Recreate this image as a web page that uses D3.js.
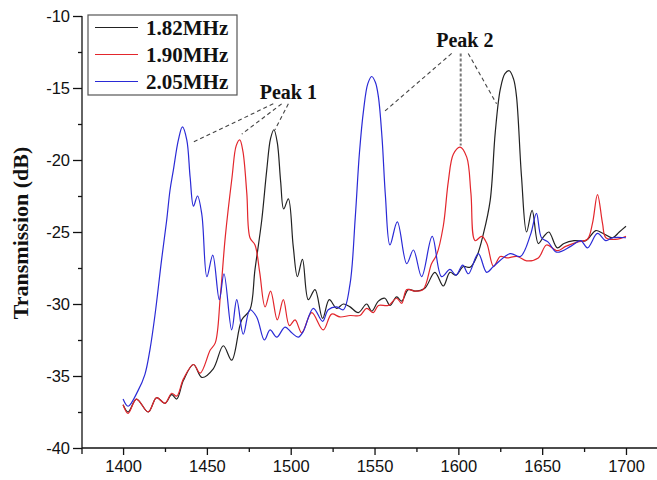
<!DOCTYPE html>
<html>
<head>
<meta charset="utf-8">
<script src="https://cdn.jsdelivr.net/npm/d3@7"></script>
<style>
  body { margin: 0; background: #fff; }
  svg { display: block; }
</style>
</head>
<body>
<svg id="chart" width="657" height="480"></svg>
<script>
// transmission spectra: [wavelength nm, dB]
var s182 = [
  [1400,-37.0],[1403,-37.5],[1408,-36.6],[1415,-37.5],[1420,-36.5],[1425,-36.9],[1429,-36.3],
  [1432,-36.6],[1436,-35.3],[1442,-34.2],[1447,-35.1],[1453.8,-34.5],[1459.8,-32.9],[1464.8,-33.9],
  [1470.8,-31.1],[1475.7,-30.4],[1478.7,-27.6],[1482.7,-24.2],[1485.7,-20.7],[1488,-18.5],[1490,-17.9],
  [1492,-18.8],[1494,-21.5],[1495.8,-23.4],[1498.6,-22.7],[1501.5,-26.0],[1504,-28.1],[1507,-26.9],
  [1510.5,-29.7],[1514.5,-29.0],[1519,-31.0],[1523,-29.7],[1527.4,-30.3],[1531.4,-30.0],[1535.4,-30.2],
  [1540.3,-30.6],[1545.3,-30.0],[1548.3,-30.5],[1552.3,-29.8],[1556.2,-29.6],[1559.2,-30.1],[1563.2,-29.5],
  [1566.2,-29.8],[1570.1,-29.0],[1574.1,-29.1],[1580,-28.9],[1586,-27.8],[1591,-28.75],[1595,-27.8],
  [1598.6,-28.0],[1603,-27.4],[1607,-27.45],[1611,-26.7],[1615,-25.1],[1619,-22.8],[1622,-18.1],
  [1625,-15.1],[1627.8,-14.0],[1630.4,-13.8],[1633,-14.4],[1634.7,-15.6],[1637.7,-21.2],[1640.7,-25.0],
  [1644,-23.5],[1647.7,-25.8],[1651,-25.3],[1654,-25.0],[1659,-26.1],[1663,-25.8],[1669,-25.6],
  [1676,-25.6],[1682,-24.9],[1686.4,-25.1],[1692,-25.4],[1696,-25.0],[1700,-24.6]
];
var s190 = [
  [1400,-37.0],[1403,-37.6],[1408,-36.6],[1415,-37.5],[1420,-36.5],[1425,-36.9],[1429,-36.2],
  [1432,-36.4],[1436,-35.2],[1442,-34.2],[1446,-34.8],[1452,-33.2],[1455,-32.7],[1458,-29.5],
  [1461,-25.3],[1465,-21.2],[1467.5,-19.0],[1469.6,-18.6],[1471.5,-19.4],[1473.8,-22.3],[1475.7,-25.4],
  [1478.7,-25.9],[1481.5,-27.8],[1484.7,-30.2],[1488,-29.1],[1492,-31.1],[1495.6,-29.7],[1499.2,-31.5],
  [1502.6,-31.1],[1506.6,-32.0],[1512.5,-30.6],[1519.4,-31.8],[1524.4,-30.7],[1529.4,-30.9],[1535.4,-30.8],
  [1541.3,-30.8],[1545.3,-30.3],[1549.3,-30.6],[1552.3,-30.1],[1558.2,-30.1],[1563.2,-29.6],[1566.2,-29.95],
  [1569.2,-29.0],[1574.1,-29.1],[1579,-29.0],[1584,-27.2],[1587,-26.6],[1591,-24.6],[1594,-21.5],
  [1597,-19.6],[1601,-19.1],[1605,-19.8],[1607.5,-22.3],[1610,-25.6],[1614,-25.3],[1617,-25.8],
  [1621,-27.4],[1625,-26.7],[1629,-26.8],[1635,-26.7],[1640.7,-27.0],[1647.7,-26.8],[1652.6,-25.9],
  [1659,-26.3],[1664,-26.0],[1671,-25.7],[1677,-25.5],[1680,-24.4],[1683,-22.4],[1686,-24.4],
  [1688,-25.4],[1695,-25.5],[1700,-25.3]
];
var s205 = [
  [1400,-36.6],[1403,-37.1],[1409,-36.0],[1413,-34.9],[1416,-33.2],[1419,-30.8],[1423,-26.9],
  [1426,-24.2],[1428,-22.1],[1430,-20.7],[1433,-18.6],[1435.4,-17.7],[1438,-18.6],[1440,-21.2],
  [1442,-23.2],[1444.4,-22.5],[1447,-23.8],[1450,-28.1],[1453.5,-26.6],[1457.4,-29.7],[1460.2,-27.9],
  [1464.8,-31.8],[1467.8,-29.7],[1471.7,-32.1],[1475.7,-30.4],[1479.7,-30.9],[1484.3,-32.5],[1487.7,-31.8],
  [1491.7,-32.3],[1496.6,-31.6],[1500.6,-32.0],[1504.5,-32.3],[1507.5,-31.9],[1513.5,-30.3],[1519,-31.2],
  [1522.4,-30.4],[1527.4,-30.2],[1531.4,-30.4],[1535.4,-28.6],[1538.5,-24.0],[1541,-19.5],[1543.5,-16.5],
  [1546,-14.7],[1548.3,-14.2],[1550.5,-14.6],[1552.3,-15.6],[1554.5,-18.5],[1556.5,-22.5],[1559.2,-25.9],
  [1563.6,-24.3],[1569.2,-27.2],[1573.2,-26.25],[1578.1,-28.1],[1584.4,-25.3],[1590,-28.1],[1595,-27.6],
  [1598.6,-28.0],[1602.6,-27.3],[1606,-27.9],[1611.9,-26.5],[1616.9,-27.8],[1620.9,-27.4],[1631,-26.5],
  [1637,-26.7],[1643,-25.2],[1646.6,-23.7],[1649.6,-25.4],[1653.6,-25.7],[1658.6,-26.4],[1667,-26.0],
  [1673,-25.6],[1677,-26.1],[1683,-25.1],[1688,-25.6],[1692,-25.4],[1700,-25.4]
];

var seriesNames = ["1.82MHz", "1.90MHz", "2.05MHz"];
var seriesColors = ["#222222", "#e3262c", "#2a2ad6"];
var xTicks = [1400, 1450, 1500, 1550, 1600, 1650, 1700];
var yTicks = [-40, -35, -30, -25, -20, -15, -10];

// dashed leader lines: [label x, label y] then [from, to] in data units
var peak1Label = [1498.6, -15.3];
var peak1Lines = [
  [[1489.6, -16.1], [1441.0, -18.8]],
  [[1494.6, -16.1], [1470.8, -18.2]],
  [[1498.6, -16.1], [1490.6, -17.9]]
];
var peak2Label = [1603.9, -11.7];
var peak2Lines = [
  [[1596.0, -12.6], [1555.2, -16.7]],
  [[1601.4, -12.6], [1601.4, -19.0]],
  [[1605.9, -12.6], [1622.8, -16.1]]
];

var svg = d3.select("#chart");
var plotL = 82, plotR = 657, plotT = 16, plotB = 448;

var x = d3.scaleLinear().domain([1375.5, 1718.5]).range([plotL, plotR]);
var y = d3.scaleLinear().domain([-40, -10]).range([plotB, plotT]);

var sans = "'Liberation Sans', Arial, sans-serif";
var serif = "'Liberation Serif', 'Times New Roman', serif";

// x axis
var xAxis = svg.append("g").attr("transform", "translate(0," + plotB + ")")
  .call(d3.axisBottom(x).tickValues(xTicks).tickSize(7).tickPadding(5).tickFormat(d3.format("d")));
svg.append("g").attr("transform", "translate(0," + plotB + ")")
  .call(d3.axisBottom(x).tickValues(d3.range(1425, 1700, 50)).tickSize(4).tickFormat(""))
  .select(".domain").remove();

// y axis, plain hyphen like the original
var yAxis = svg.append("g").attr("transform", "translate(" + plotL + ",0)")
  .call(d3.axisLeft(y).tickValues(yTicks).tickSize(9).tickPadding(3).tickSizeOuter(0)
    .tickFormat(function(d) { return String(d); }));
svg.append("g").attr("transform", "translate(" + plotL + ",0)")
  .call(d3.axisLeft(y).tickValues(d3.range(-37.5, -10, 5)).tickSize(4).tickFormat(""))
  .select(".domain").remove();

svg.selectAll(".tick text").attr("font-family", sans).attr("font-size", 16.5).attr("fill", "#111");
svg.selectAll(".domain, .tick line").attr("stroke", "#111").attr("stroke-width", 1.3);
xAxis.select(".domain").attr("d", "M" + plotL + ",0H" + plotR);
yAxis.select(".domain").attr("d", "M0," + plotT + "V" + (plotB + 6));

svg.append("text")
  .attr("transform", "translate(28,233) rotate(-90)")
  .attr("text-anchor", "middle")
  .attr("font-family", serif).attr("font-weight", "bold").attr("font-size", 22)
  .attr("fill", "#111")
  .text("Transmission (dB)");

// curves
var line = d3.line()
  .x(function(d) { return x(d[0]); })
  .y(function(d) { return y(d[1]); })
  .curve(d3.curveCatmullRom.alpha(0.5));

[s182, s190, s205].forEach(function(s, i) {
  svg.append("path")
    .datum(s)
    .attr("fill", "none")
    .attr("stroke", seriesColors[i])
    .attr("stroke-width", 1.2)
    .attr("d", line);
});

// peak annotations
function leaders(lines) {
  lines.forEach(function(l) {
    var vertical = l[0][0] === l[1][0];
    svg.append("line")
      .attr("x1", x(l[0][0])).attr("y1", y(l[0][1]))
      .attr("x2", x(l[1][0])).attr("y2", y(l[1][1]))
      .attr("stroke", vertical ? "#777" : "#444")
      .attr("stroke-width", vertical ? 2 : 1.1)
      .attr("stroke-dasharray", vertical ? "3,2" : "4,3");
  });
}
leaders(peak1Lines);
leaders(peak2Lines);

[[peak1Label, "Peak 1"], [peak2Label, "Peak 2"]].forEach(function(p) {
  svg.append("text")
    .attr("x", x(p[0][0])).attr("y", y(p[0][1]))
    .attr("text-anchor", "middle")
    .attr("dominant-baseline", "central")
    .attr("font-family", serif).attr("font-weight", "bold").attr("font-size", 20)
    .attr("fill", "#111")
    .text(p[1]);
});

// legend
var legend = svg.append("g").attr("transform", "translate(88,15)");
legend.append("rect")
  .attr("width", 149).attr("height", 80)
  .attr("fill", "#fff").attr("stroke", "#555").attr("stroke-width", 1.2);
seriesNames.forEach(function(name, i) {
  var ly = 12.5 + i * 27;
  legend.append("line")
    .attr("x1", 7).attr("x2", 50).attr("y1", ly).attr("y2", ly)
    .attr("stroke", seriesColors[i]).attr("stroke-width", 1.2);
  legend.append("text")
    .attr("x", 58).attr("y", ly + 7.5)
    .attr("font-family", serif).attr("font-weight", "bold").attr("font-size", 21)
    .attr("fill", "#111")
    .text(name);
});
</script>
</body>
</html>
